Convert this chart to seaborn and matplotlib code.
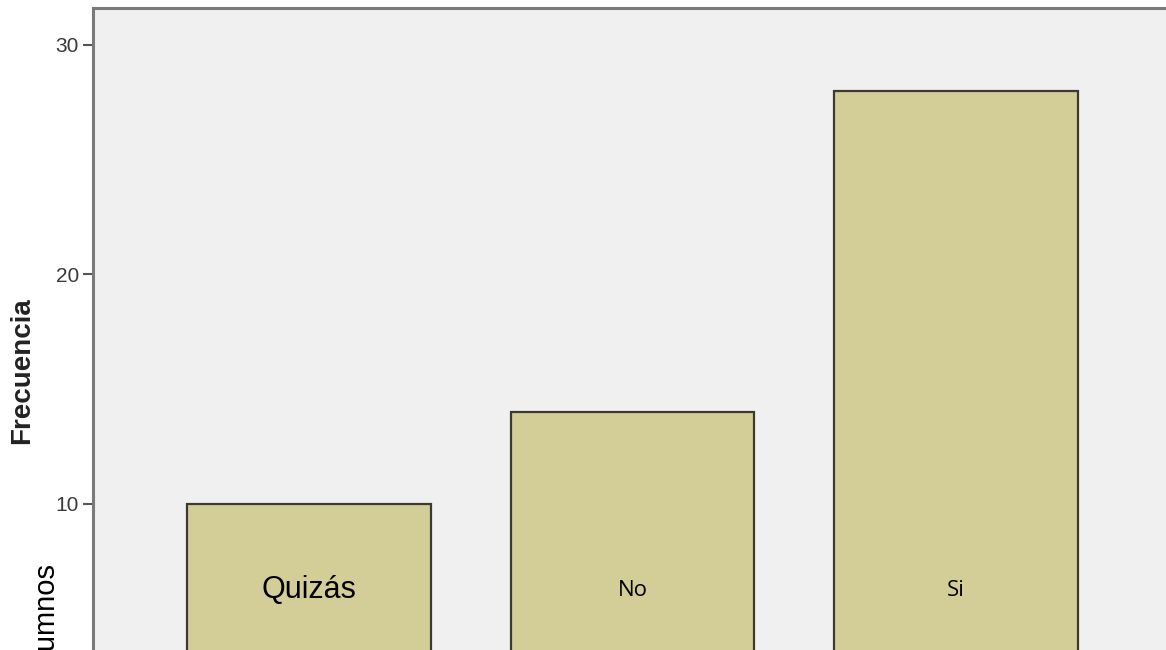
import matplotlib
matplotlib.use("Agg")
import matplotlib.pyplot as plt
import seaborn as sns
import pandas as pd

categories = ["Quizás", "No", "Si"]
frecuencia = [10, 14, 28]
y_ticks = [10, 20, 30]

sns.set_theme(style="white")
plt.rcParams['font.family'] = ['Liberation Sans', 'DejaVu Sans']

df = pd.DataFrame({"cat": categories, "val": frecuencia})

fig = plt.figure(figsize=(11.66, 6.5), dpi=100)
fig.patch.set_facecolor("white")
# axes extends beyond the figure (cropped chart)
ax = fig.add_axes([93/1166, -83.5/650, (1172-93)/1166, (642+83.5)/650])
ax.set_facecolor("#F0F0F0")

sns.barplot(data=df, x="cat", y="val", color="#D3CE97", saturation=1,
            edgecolor="#3A3A30", linewidth=1.6, width=0.754, ax=ax)

ax.set_xlim(-0.668, 2.668)
ax.set_ylim(0, 31.6)
ax.set_yticks(y_ticks)
ax.set_yticklabels([str(t) for t in y_ticks], fontsize=15, color="#3A3A3A")
ax.tick_params(axis="y", direction="out", length=7, width=1.5, color="#555555", pad=3, left=True)
ax.set_xticks([])
ax.set_xlabel("")
ax.set_ylabel("Frecuencia", fontsize=20, fontweight="bold", color="#222222", labelpad=15)
for s in ["left", "top"]:
    ax.spines[s].set_color("#7A7A7A")
    ax.spines[s].set_linewidth(2.2)
ax.spines["right"].set_visible(False)
ax.spines["bottom"].set_visible(False)

# text boxes inside the bars
label_y = 6.25
ax.text(0, label_y, categories[0], ha="center", va="center", fontsize=22, color="black",
        family=["Liberation Sans"])
ax.text(1, label_y, categories[1], ha="center", va="center", fontsize=16, color="black",
        family=["Open Sans"])
ax.text(2, label_y, categories[2], ha="center", va="center", fontsize=16, color="black",
        family=["Open Sans"])

fig.text(47/1166, 1 - 563/650, "Alumnos", rotation=90, ha="center", va="top",
         fontsize=21, color="black")

fig.savefig("out.png", dpi=100, facecolor="white")
